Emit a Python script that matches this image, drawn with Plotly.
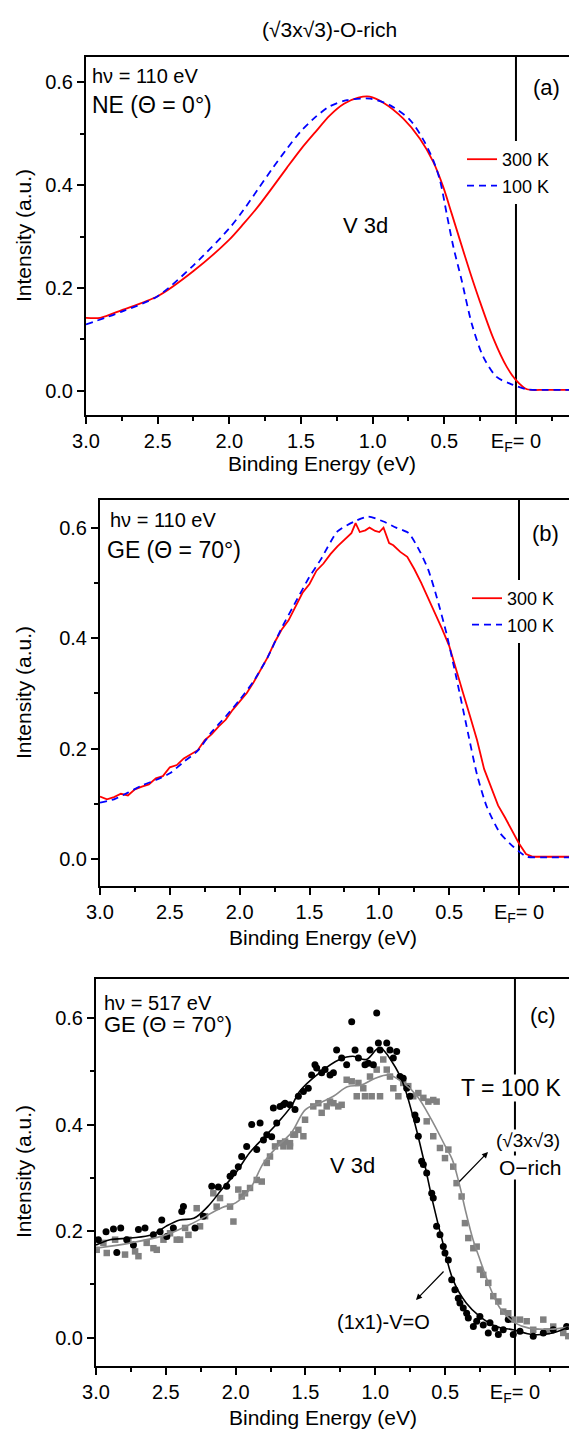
import plotly.graph_objects as go

# ---------------- data ----------------
# Panel (a): NE, hv = 110 eV
a_E_300 = [3.0, 2.9, 2.75, 2.5, 2.25, 2.0, 1.9, 1.8, 1.7, 1.6, 1.5, 1.4, 1.3, 1.2, 1.1, 1.02, 0.925, 0.786,
           0.67, 0.577, 0.507, 0.449, 0.391, 0.321, 0.251, 0.158, 0.065, 0.0, -0.077, -0.2, -0.37]
a_I_300 = [0.142, 0.142, 0.157, 0.184, 0.233, 0.294, 0.325, 0.358, 0.395, 0.433, 0.470, 0.503, 0.535, 0.558,
           0.570, 0.572, 0.560, 0.529, 0.490, 0.445, 0.396, 0.345, 0.293, 0.231, 0.173, 0.102, 0.047, 0.021,
           0.003, 0.002, 0.002]
a_E_100 = [3.0, 2.75, 2.5, 2.25, 2.0, 1.9, 1.8, 1.7, 1.6, 1.5, 1.4, 1.3, 1.18, 1.017, 0.877, 0.737, 0.644,
           0.577, 0.53, 0.484, 0.437, 0.379, 0.309, 0.228, 0.135, 0.042, -0.077, -0.2, -0.37]
a_I_100 = [0.129, 0.154, 0.184, 0.244, 0.316, 0.352, 0.392, 0.432, 0.470, 0.505, 0.532, 0.553, 0.565, 0.568,
           0.555, 0.526, 0.487, 0.448, 0.409, 0.345, 0.280, 0.215, 0.131, 0.066, 0.027, 0.014, 0.003, 0.002,
           0.002]

# Panel (b): GE, hv = 110 eV
b_E_300 = [3.0, 2.95, 2.9, 2.85, 2.8, 2.75, 2.7, 2.65, 2.6, 2.55, 2.5, 2.45, 2.4, 2.35, 2.3, 2.25, 2.2,
           2.15, 2.1, 2.05, 2.0, 1.95, 1.9, 1.85, 1.8, 1.75, 1.7, 1.65, 1.6, 1.55, 1.5, 1.45, 1.4, 1.35,
           1.3, 1.25, 1.2, 1.17, 1.14, 1.1, 1.07, 1.03, 1.0, 0.97, 0.93, 0.9, 0.85, 0.8, 0.75, 0.7, 0.65,
           0.6, 0.55, 0.5, 0.45, 0.4, 0.35, 0.3, 0.25, 0.2, 0.15, 0.1, 0.05, 0.0, -0.05, -0.1, -0.2, -0.36]
b_I_300 = [0.113, 0.108, 0.112, 0.118, 0.115, 0.126, 0.131, 0.135, 0.146, 0.150, 0.166, 0.170, 0.182, 0.190,
           0.197, 0.215, 0.226, 0.240, 0.252, 0.270, 0.286, 0.300, 0.320, 0.342, 0.365, 0.392, 0.415, 0.432,
           0.458, 0.482, 0.498, 0.522, 0.535, 0.552, 0.566, 0.578, 0.590, 0.608, 0.592, 0.595, 0.600, 0.594,
           0.592, 0.600, 0.572, 0.568, 0.556, 0.547, 0.525, 0.500, 0.473, 0.444, 0.416, 0.386, 0.345, 0.300,
           0.258, 0.215, 0.163, 0.128, 0.097, 0.075, 0.052, 0.028, 0.009, 0.004, 0.004, 0.004]
b_E_100 = [3.0, 2.9, 2.8, 2.7, 2.6, 2.5, 2.4, 2.3, 2.2, 2.1, 2.0, 1.9, 1.8, 1.7, 1.6, 1.5, 1.42, 1.3,
           1.18, 1.08, 0.97, 0.88, 0.79, 0.71, 0.65, 0.59, 0.52, 0.45, 0.375, 0.3, 0.23, 0.136, 0.04,
           -0.055, -0.2, -0.36]
b_I_100 = [0.102, 0.108, 0.120, 0.133, 0.143, 0.155, 0.176, 0.196, 0.230, 0.258, 0.288, 0.322, 0.365,
           0.418, 0.465, 0.511, 0.542, 0.593, 0.611, 0.620, 0.611, 0.600, 0.590, 0.557, 0.524, 0.475,
           0.409, 0.330, 0.240, 0.152, 0.094, 0.047, 0.022, 0.004, 0.003, 0.003]

# Panel (c): GE, hv = 517 eV, T = 100 K
c_E_V = [2.983, 2.928, 2.875, 2.823, 2.851, 2.780, 2.732, 2.696, 2.649, 2.589, 2.541, 2.493, 2.529, 2.446,
         2.374, 2.386, 2.291, 2.231, 2.171, 2.124, 2.064, 2.040, 2.016, 1.981, 1.957, 1.921, 1.885, 1.849,
         1.825, 1.801, 1.777, 1.742, 1.730, 1.706, 1.682, 1.646, 1.611, 1.575, 1.551,
         1.658, 1.515, 1.480, 1.456, 1.432, 1.420, 1.384, 1.360, 1.324, 1.300, 1.277, 1.241, 1.205,
         1.169, 1.145, 1.121, 1.074, 1.050, 1.038, 1.014, 0.990, 0.978, 0.966, 0.918, 0.895, 0.871, 0.847,
         0.823, 0.800, 0.775, 0.752, 0.716, 0.704, 0.692, 0.668, 0.656, 0.632, 0.596, 0.585, 0.561, 0.537,
         0.513, 0.501, 0.477, 0.453, 0.430, 0.406, 0.394, 0.370, 0.346, 0.334, 0.298, 0.274, 0.251, 0.227,
         0.191, 0.179, 0.143, 0.119, 0.084, 0.048, 0.012, -0.036, -0.131, -0.203, -0.274, -0.370]
c_I_V = [0.184, 0.199, 0.204, 0.206, 0.160, 0.184, 0.174, 0.203, 0.206, 0.193, 0.199, 0.190, 0.221, 0.206,
         0.246, 0.237, 0.206, 0.228, 0.284, 0.283, 0.284, 0.303, 0.309, 0.321, 0.340, 0.359, 0.400, 0.353,
         0.403, 0.371, 0.381, 0.377, 0.431, 0.403, 0.434, 0.440, 0.437, 0.428, 0.453,
         0.437, 0.462, 0.468, 0.493, 0.512, 0.506, 0.497, 0.503, 0.493, 0.497, 0.540, 0.525, 0.512,
         0.593, 0.540, 0.525, 0.512, 0.515, 0.540, 0.512, 0.609, 0.553, 0.540, 0.553, 0.540, 0.525, 0.537,
         0.490, 0.487, 0.468, 0.453, 0.418, 0.409, 0.378, 0.331, 0.325, 0.309, 0.271, 0.262, 0.209, 0.193,
         0.171, 0.159, 0.146, 0.109, 0.090, 0.074, 0.065, 0.056, 0.046, 0.037, 0.021, 0.031, 0.040, 0.024,
         0.009, 0.028, 0.018, 0.006, 0.015, 0.034, 0.006, 0.012, 0.003, 0.009, 0.015, 0.021]
c_E_O = [2.995, 2.947, 2.923, 2.863, 2.792, 2.768, 2.720, 2.696, 2.637, 2.589, 2.565, 2.517, 2.470, 2.422,
         2.398, 2.362, 2.338, 2.279, 2.255, 2.219, 2.160, 2.136, 2.112, 2.040, 2.016, 1.981, 1.957, 1.933,
         1.897, 1.849, 1.813, 1.777, 1.754, 1.718, 1.682, 1.646, 1.611, 1.587, 1.551,
         1.658, 1.611, 1.575, 1.515, 1.503, 1.444, 1.408, 1.384, 1.348, 1.324, 1.300, 1.265, 1.241, 1.205,
         1.169, 1.121, 1.086, 1.133, 1.074, 1.026, 0.966, 1.038, 0.990, 0.943, 0.918, 0.895, 0.871, 0.835,
         0.800, 0.764, 0.728, 0.692, 0.656, 0.620, 0.585, 0.561, 0.632, 0.585, 0.537, 0.501, 0.477, 0.442,
         0.418, 0.382, 0.358, 0.334, 0.298, 0.274, 0.251, 0.227, 0.191, 0.155, 0.119, 0.084, 0.048, 0.012,
         -0.036, -0.084, -0.131, -0.203, -0.227, -0.274, -0.346, -0.382]
c_I_O = [0.165, 0.178, 0.159, 0.184, 0.156, 0.184, 0.162, 0.153, 0.178, 0.168, 0.165, 0.184, 0.196, 0.184,
         0.184, 0.206, 0.193, 0.243, 0.209, 0.228, 0.271, 0.246, 0.262, 0.246, 0.218, 0.278, 0.265, 0.271,
         0.281, 0.296, 0.293, 0.328, 0.340, 0.359, 0.365, 0.368, 0.359, 0.381, 0.390,
         0.359, 0.365, 0.381, 0.378, 0.409, 0.434, 0.440, 0.422, 0.434, 0.443, 0.440, 0.434, 0.437, 0.484,
         0.481, 0.478, 0.468, 0.453, 0.453, 0.453, 0.453, 0.490, 0.503, 0.522, 0.503, 0.490, 0.468, 0.453,
         0.478, 0.472, 0.453, 0.459, 0.450, 0.443, 0.446, 0.443, 0.406, 0.378, 0.356, 0.337, 0.353, 0.321,
         0.290, 0.265, 0.215, 0.187, 0.168, 0.171, 0.128, 0.118, 0.103, 0.078, 0.068, 0.049, 0.046, 0.034,
         0.034, 0.031, 0.015, 0.034, 0.012, 0.021, 0.009, 0.003]
c_E_fitV = [3.0, 2.9, 2.75, 2.6, 2.5, 2.4, 2.3, 2.2, 2.1, 2.0, 1.9, 1.8, 1.7, 1.6, 1.543, 1.4, 1.256,
            1.16, 1.065, 0.969, 0.874, 0.802, 0.73, 0.659, 0.587, 0.516, 0.444, 0.349, 0.253, 0.134,
            0.014, -0.129, -0.272, -0.384]
c_I_fitV = [0.174, 0.184, 0.187, 0.193, 0.209, 0.221, 0.224, 0.246, 0.278, 0.309, 0.347, 0.375, 0.403,
            0.435, 0.462, 0.497, 0.522, 0.528, 0.522, 0.544, 0.515, 0.478, 0.415, 0.340, 0.253, 0.178,
            0.109, 0.065, 0.040, 0.021, 0.015, 0.006, 0.009, 0.020]
c_E_fitO = [3.0, 2.75, 2.5, 2.3, 2.1, 2.0, 1.9, 1.8, 1.7, 1.6, 1.5, 1.4, 1.3, 1.2, 1.1, 1.0, 0.9, 0.8,
            0.7, 0.6, 0.5, 0.45, 0.4, 0.35, 0.3, 0.25, 0.2, 0.15, 0.1, 0.0, -0.1, -0.25, -0.387]
c_I_fitO = [0.168, 0.178, 0.193, 0.216, 0.244, 0.253, 0.278, 0.328, 0.359, 0.385, 0.428, 0.440, 0.453,
            0.471, 0.474, 0.487, 0.493, 0.478, 0.453, 0.410, 0.360, 0.335, 0.290, 0.234, 0.184, 0.146,
            0.109, 0.077, 0.053, 0.028, 0.018, 0.016, 0.020]

legend_labels = ["300 K", "100 K"]

# ---------------- figure ----------------
W, H = 569, 1432
FONT = "Liberation Sans, Arial, sans-serif"


def px(x):
    return x / W


def py(y):
    return 1 - y / H


RED = "#ff0000"
BLUE = "#0000ff"
GREY = "#808080"

fig = go.Figure()

fig.add_trace(go.Scatter(x=a_E_300, y=a_I_300, mode="lines", name=legend_labels[0],
                         line=dict(color=RED, width=1.8, shape="spline", smoothing=0.8),
                         xaxis="x", yaxis="y", legend="legend"))
fig.add_trace(go.Scatter(x=a_E_100, y=a_I_100, mode="lines", name=legend_labels[1],
                         line=dict(color=BLUE, width=1.8, dash="7px,5px", shape="spline", smoothing=0.8),
                         xaxis="x", yaxis="y", legend="legend"))
fig.add_trace(go.Scatter(x=b_E_300, y=b_I_300, mode="lines", name=legend_labels[0],
                         line=dict(color=RED, width=1.8), xaxis="x2", yaxis="y2", legend="legend2"))
fig.add_trace(go.Scatter(x=b_E_100, y=b_I_100, mode="lines", name=legend_labels[1],
                         line=dict(color=BLUE, width=1.8, dash="7px,5px", shape="spline", smoothing=0.6),
                         xaxis="x2", yaxis="y2", legend="legend2"))
fig.add_trace(go.Scatter(x=c_E_O, y=c_I_O, mode="markers", showlegend=False,
                         marker=dict(symbol="square", size=6.5, color=GREY), xaxis="x3", yaxis="y3"))
fig.add_trace(go.Scatter(x=c_E_V, y=c_I_V, mode="markers", showlegend=False,
                         marker=dict(symbol="circle", size=7, color="black"), xaxis="x3", yaxis="y3"))
fig.add_trace(go.Scatter(x=c_E_fitO, y=c_I_fitO, mode="lines", showlegend=False,
                         line=dict(color="#8a8a8a", width=1.6, shape="spline"), xaxis="x3", yaxis="y3"))
fig.add_trace(go.Scatter(x=c_E_fitV, y=c_I_fitV, mode="lines", showlegend=False,
                         line=dict(color="black", width=1.6, shape="spline"), xaxis="x3", yaxis="y3"))

tickfont = dict(family=FONT, size=20, color="black")
common = dict(showline=True, linecolor="black", linewidth=2, ticks="outside", ticklen=7,
              tickwidth=2, tickcolor="black", showgrid=False, zeroline=False, tickfont=tickfont,
              automargin=False)


def xax(domain, rng, anchor):
    return dict(common, domain=domain, range=rng, autorange=False, anchor=anchor, mirror=True,
                tickmode="linear", tick0=0, dtick=0.5, tickformat=".1f",
                labelalias={"0.0": "E<sub>F</sub>= 0"},
                minor=dict(tickmode="linear", tick0=0, dtick=0.25, ticklen=4, tickwidth=1.5,
                           ticks="outside", tickcolor="black"))


def yax(domain, rng, anchor):
    return dict(common, domain=domain, range=rng, autorange=False, anchor=anchor,
                tickmode="linear", tick0=0, dtick=0.2, tickformat=".1f",
                minor=dict(tickmode="linear", tick0=0, dtick=0.1, ticklen=4, tickwidth=1.5,
                           ticks="outside", tickcolor="black"))


fig.update_layout(
    width=W, height=H, margin=dict(l=0, r=0, t=0, b=0, autoexpand=False),
    paper_bgcolor="white", plot_bgcolor="white",
    font=dict(family=FONT, color="black"),
    xaxis=xax([px(86), 1.0], [3.0, -0.37], "y"),
    yaxis=yax([py(415), py(57)], [-0.047, 0.649], "x"),
    xaxis2=xax([px(100), 1.0], [3.0, -0.358], "y2"),
    yaxis2=yax([py(886), py(500)], [-0.049, 0.65], "x2"),
    xaxis3=xax([px(96), 1.0], [3.0, -0.387], "y3"),
    yaxis3=yax([py(1366), py(979)], [-0.053, 0.673], "x3"),
    legend=dict(x=px(462), y=py(141), xanchor="left", yanchor="top", bgcolor="white",
                font=dict(family=FONT, size=18, color="black"), tracegroupgap=0),
    legend2=dict(x=px(467), y=py(580), xanchor="left", yanchor="top", bgcolor="white",
                 font=dict(family=FONT, size=18, color="black"), tracegroupgap=0),
)

# E_F vertical lines
for xr, yr in [("x", "y domain"), ("x2", "y2 domain"), ("x3", "y3 domain")]:
    fig.add_shape(type="line", xref=xr, yref=yr, x0=0, x1=0, y0=0, y1=1,
                  line=dict(color="black", width=2), layer="below")


def txt(x, y, s, size, xanchor="center", bg=None, angle=0):
    d = dict(x=px(x), y=py(y), xref="paper", yref="paper", text=s, showarrow=False,
             xanchor=xanchor, yanchor="middle", textangle=angle,
             font=dict(family=FONT, size=size, color="black"))
    if bg:
        d.update(bgcolor=bg, borderpad=0)
    fig.add_annotation(**d)


txt(329, 30, "(√3x√3)-O-rich", 21)

# panel (a)
txt(90, 76, "hν = 110 eV", 20, "left")
txt(90, 105, "NE (Θ = 0°)", 23, "left")
txt(546, 88, "(a)", 22)
txt(365, 225, "V 3d", 22)
txt(23, 236, "Intensity (a.u.)", 21, angle=-90)
txt(322, 463, "Binding Energy (eV)", 21)

# panel (b)
txt(108, 520, "hν = 110 eV", 20, "left")
txt(105, 550, "GE (Θ = 70°)", 23, "left")
txt(545, 533, "(b)", 22)
txt(23, 693, "Intensity (a.u.)", 21, angle=-90)
txt(323, 937, "Binding Energy (eV)", 21)

# panel (c)
txt(102, 1003, "hν = 517 eV", 20, "left")
txt(102, 1024, "GE (Θ = 70°)", 22, "left")
txt(543, 1015, "(c)", 22)
txt(512, 1088, "T = 100 K", 23, bg="white")
txt(528, 1140, "(√3x√3)", 19, bg="white")
txt(530, 1167, "O−rich", 21, bg="white")
txt(352, 1165, "V 3d", 22)
txt(383, 1322, "(1x1)-V=O", 20)
txt(23, 1172, "Intensity (a.u.)", 21, angle=-90)
txt(323, 1417, "Binding Energy (eV)", 21)

# arrows
fig.add_annotation(x=px(488), y=py(1152), xref="paper", yref="paper", text="", showarrow=True,
                   ax=-30, ay=31, arrowhead=2, arrowsize=1, arrowwidth=1.2, arrowcolor="black")
fig.add_annotation(x=px(416), y=py(1300), xref="paper", yref="paper", text="", showarrow=True,
                   ax=29, ay=-30, arrowhead=2, arrowsize=1, arrowwidth=1.2, arrowcolor="black")

fig.write_html("out.html")
